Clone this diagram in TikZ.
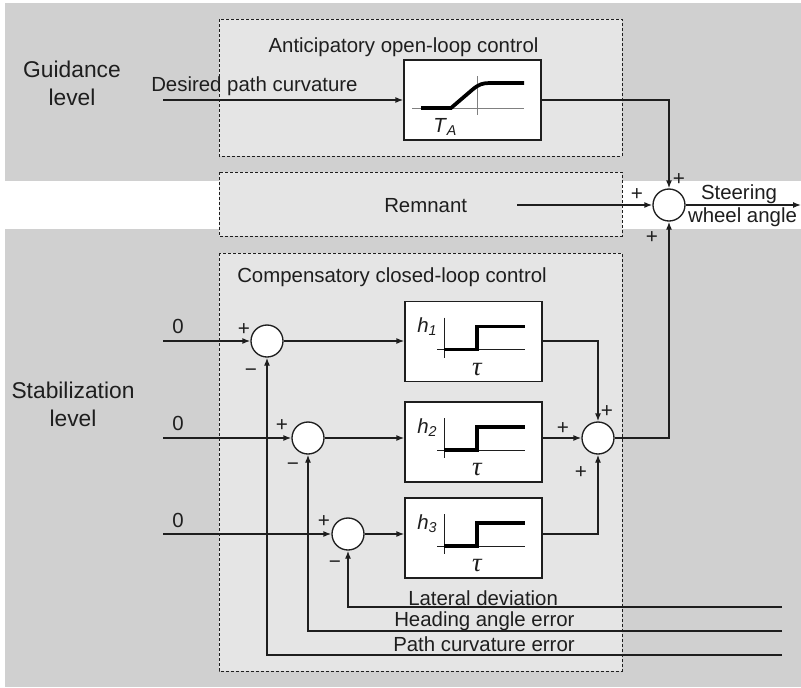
\documentclass[tikz,border=0pt]{standalone}
\usepackage{fontspec}
\setmainfont{Liberation Sans}
\newfontfamily\seriffont{Liberation Serif}
\usetikzlibrary{arrows.meta}
\definecolor{bggray}{RGB}{208,208,208}
\definecolor{dfill}{RGB}{229,229,229}
\definecolor{ink}{RGB}{30,30,30}
\begin{document}
\begin{tikzpicture}[x=0.75pt,y=-0.75pt,
  txt/.style={font=\fontsize{15.3}{18}\selectfont, inner sep=0pt, text=ink},
  taustyle/.style={font=\fontsize{20}{22}\selectfont\seriffont\itshape, inner sep=0pt, text=ink},
  lvl/.style={font=\fontsize{17.1}{21}\selectfont, align=center, inner sep=0pt, text=ink},
  sgn/.style={font=\fontsize{15.5}{17}\selectfont, inner sep=0pt, text=ink},
  sumc/.style={circle, draw=ink, line width=1pt, fill=white, minimum size=24pt, inner sep=0pt},
  blk/.style={draw=ink, line width=1pt, fill=white, minimum width=102.75pt, minimum height=60pt, inner sep=0pt},
  sig/.style={draw=ink, line width=1pt},
  arr/.style={sig, -{Latex[length=6pt,width=4.5pt]}},
  dbox/.style={draw=ink, fill=dfill, line width=0.75pt, dash pattern=on 2.25pt off 1.5pt},
  axis/.style={draw=ink, line width=0.75pt},
  thk/.style={draw=black, line width=2.8pt}
]
\useasboundingbox (0,0) rectangle (801,687);
% backgrounds
\fill[white] (0,0) rectangle (801,687);
\fill[bggray] (5,3) rectangle (801,687);
\fill[white] (0,181) rectangle (219,229);
\fill[white] (622,181) rectangle (801,229);
\draw[dbox] (219,19) rectangle (622,156);
\draw[dbox] (219,172) rectangle (622,236);
\draw[dbox] (219,253) rectangle (622,671);

% blocks
\node[blk] (ta) at (472.5,100) {};
\node[blk] (b1) at (473.5,341.5) {};
\node[blk] (b2) at (473.5,442) {};
\node[blk] (b3) at (473.5,538) {};

% T_A graph
\draw[draw=gray, line width=0.75pt] (412,108) -- (524,108);
\draw[draw=gray, line width=0.75pt] (477,76) -- (477,115);
\draw[thk] (421,108) -- (451,108) -- (472,90) .. controls (479,84) and (483,83) .. (490,83) -- (524,83);
\node[txt, anchor=base west] (talbl) at (433,132) {\textit{T}\textsubscript{\textit{A}}};

% step graphs
\foreach \yt/\k in {301.5/1,402/2,498/3} {
  \draw[axis] (444,{\yt+16}) -- (444,{\yt+56});
  \draw[axis] (437,{\yt+48}) -- (525,{\yt+48});
  \draw[thk] (444,{\yt+48}) -- (477,{\yt+48}) -- (477,{\yt+25}) -- (525,{\yt+25});
  \node[txt, anchor=base west] (h\k) at (417,{\yt+31}) {\textit{h}\textsubscript{\textit{\k}}};
  \node[taustyle] (tau\k) at (477,{\yt+68}) {τ};
}

% summing junctions
\node[sumc] (c1) at (267,341) {};
\node[sumc] (c2) at (308,438) {};
\node[sumc] (c3) at (348,534) {};
\node[sumc] (cs) at (598,438) {};
\node[sumc] (co) at (669,205) {};

% free ends
\coordinate (in0) at (163,100);
\coordinate (i1) at (163,341);
\coordinate (i2) at (163,438);
\coordinate (i3) at (163,534);
\coordinate (rem) at (517,205);
\coordinate (out) at (801,205);
\coordinate (f1) at (782,655);
\coordinate (f2) at (782,631);
\coordinate (f3) at (782,607);

% connectors
\draw[arr] (in0) -- (ta.west);
\draw[arr] (ta.east) -| (co.north);
\draw[arr] (rem) -- (co.west);
\draw[arr] (co.east) -- (out);
\draw[arr] (cs.east) -| (co.south);
\draw[arr] (i1) -- (c1.west);
\draw[arr] (c1.east) -- (c1 -| b1.west);
\draw[arr] (i2) -- (c2.west);
\draw[arr] (c2.east) -- (c2 -| b2.west);
\draw[arr] (i3) -- (c3.west);
\draw[arr] (c3.east) -- (c3 -| b3.west);
\draw[arr] (c1 -| b1.east) -| (cs.north);
\draw[arr] (c2 -| b2.east) -- (cs.west);
\draw[arr] (c3 -| b3.east) -| (cs.south);
\draw[arr] (f1) -| (c1.south);
\draw[arr] (f2) -| (c2.south);
\draw[arr] (f3) -| (c3.south);

% texts
\node[lvl] (gl) at (72,83) {Guidance\\level};
\node[lvl] (sl) at (73,404) {Stabilization\\level};
\node[txt, anchor=base west] (dpc) at (151,91) {Desired path curvature};
\node[txt, anchor=base] (aoc) at (403.5,52) {Anticipatory open-loop control};
\node[txt, anchor=base west] (rm) at (384,212) {Remnant};
\node[txt, anchor=base] (st) at (739,199) {Steering};
\node[txt, anchor=base] (wa) at (742.5,222) {wheel angle};
\node[txt, anchor=base west] (ccl) at (237,282) {Compensatory closed-loop control};
\node[txt, anchor=base west] (ld) at (408,605) {Lateral deviation};
\node[txt, anchor=base west] (hae) at (394,626) {Heading angle error};
\node[txt, anchor=base west] (pce) at (393,651) {Path curvature error};
\node[txt] (z1) at (178,326) {0};
\node[txt] (z2) at (178,423) {0};
\node[txt] (z3) at (178,520) {0};

% signs
\node[sgn] (p1) at (679,180) {+};
\node[sgn] (p2) at (637,195) {+};
\node[sgn] (p3) at (652,238) {+};
\node[sgn] (p4) at (607,412) {+};
\node[sgn] (p5) at (563,429) {+};
\node[sgn] (p6) at (581,473) {+};
\node[sgn] (p7) at (244,330) {+};
\node[sgn] (m7) at (251,373) {−};
\node[sgn] (p8) at (282,426) {+};
\node[sgn] (m8) at (293,467) {−};
\node[sgn] (p9) at (324,522) {+};
\node[sgn] (m9) at (335,565) {−};
\end{tikzpicture}
\end{document}
